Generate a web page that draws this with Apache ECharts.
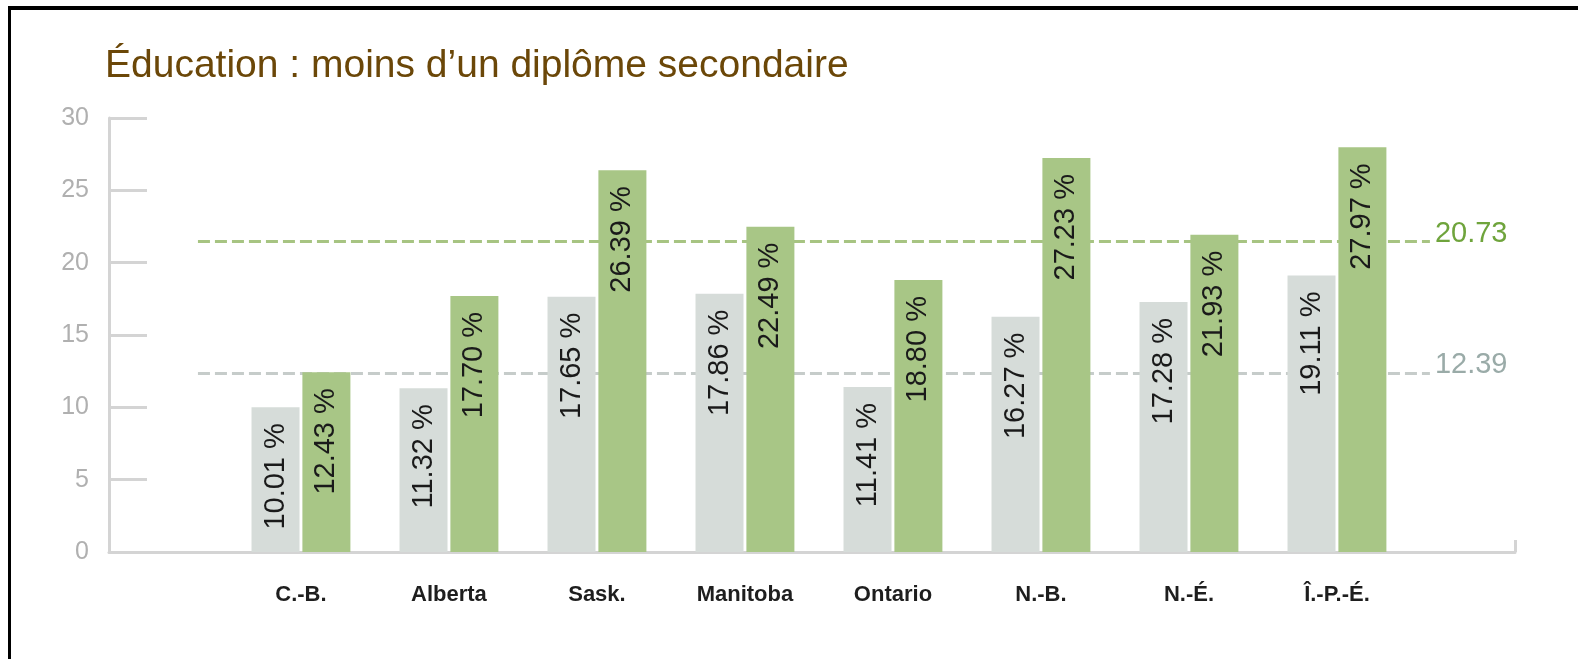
<!DOCTYPE html>
<html>
<head>
<meta charset="utf-8">
<script src="https://cdn.jsdelivr.net/npm/echarts@6/dist/echarts.min.js"></script>
<style>
html,body{margin:0;padding:0;background:#fff;}
#chart{position:absolute;left:0;top:0;width:1578px;height:659px;}
#frame{position:absolute;left:8px;top:6px;width:1580px;height:660px;border-top:4px solid #000;border-left:3px solid #000;pointer-events:none;}
</style>
</head>
<body>
<div id="chart"></div>
<div id="frame"></div>
<script>
const titleText = "Éducation : moins d’un diplôme secondaire";
const categories = ["C.-B.", "Alberta", "Sask.", "Manitoba", "Ontario", "N.-B.", "N.-É.", "Î.-P.-É."];
const grayValues = [10.01, 11.32, 17.65, 17.86, 11.41, 16.27, 17.28, 19.11];
const greenValues = [12.43, 17.70, 26.39, 22.49, 18.80, 27.23, 21.93, 27.97];
const yTicks = [0, 5, 10, 15, 20, 25, 30];
// reference lines: drawn position (as seen) and printed label
const greenRefLine = 21.45, greenRefLabel = "20.73";
const grayRefLine = 12.39, grayRefLabel = "12.39";

const font = "'Liberation Sans', Arial, sans-serif";
const xMin = -1.297, xMax = 8.203;
const lineStart = -0.696, lineEnd = 7.628;

const chart = echarts.init(document.getElementById('chart'));
const barLabel = {
  show: true, position: 'insideTop', rotate: 90, align: 'right', verticalAlign: 'middle',
  distance: 16, color: '#1a1a1a', fontFamily: font, fontSize: 29,
  formatter: p => p.value[1].toFixed(2) + ' %'
};
function refLine(v, label, lineColor, textColor) {
  return {
    silent: true, symbol: ['none', 'none'], z: 1,
    lineStyle: { type: [12, 5], width: 3, color: lineColor },
    label: { show: true, position: 'end', distance: 5, formatter: '{t|' + label + '}',
      rich: { t: { color: textColor, fontFamily: font, fontSize: 29, padding: [0, 0, 16, 0] } } },
    data: [[{ coord: [lineStart, v] }, { coord: [lineEnd, v] }]]
  };
}
chart.setOption({
  animation: false,
  title: {
    text: titleText, left: 100, top: 42,
    textStyle: { color: '#6b4708', fontFamily: font, fontSize: 39, fontWeight: 'normal' }
  },
  grid: { left: 109, right: 63, top: 118, bottom: 107 },
  xAxis: {
    type: 'value', min: xMin, max: xMax,
    splitLine: { show: false },
    axisLine: { show: true, lineStyle: { color: '#d4d4d4', width: 3 } },
    axisTick: { show: true, inside: true, length: 12, customValues: [xMax], lineStyle: { color: '#d4d4d4', width: 3 } },
    axisLabel: {
      customValues: categories.map((c, i) => i),
      formatter: v => categories[Math.round(v)] || '',
      margin: 32, color: '#1e1e1e', fontFamily: font, fontSize: 22, fontWeight: 'bold'
    }
  },
  yAxis: {
    type: 'value', min: yTicks[0], max: yTicks[yTicks.length - 1], interval: 5,
    splitLine: { show: false },
    axisLine: { show: true, onZero: false, lineStyle: { color: '#d4d4d4', width: 3 } },
    axisTick: { show: true, inside: true, length: 38, lineStyle: { color: '#d4d4d4', width: 3 } },
    axisLabel: { margin: 20, color: '#b0b0b0', fontFamily: font, fontSize: 25 }
  },
  series: [
    {
      type: 'line', data: [], silent: true, z: 1,
      markLine: refLine(grayRefLine, grayRefLabel, '#c6ccca', '#9aaba8')
    },
    {
      type: 'line', data: [], silent: true, z: 1,
      markLine: refLine(greenRefLine, greenRefLabel, '#a7c482', '#6fa43c')
    },
    {
      type: 'bar', barWidth: 48, barGap: '6%',
      itemStyle: { color: '#d6dcd9' },
      data: grayValues.map((v, i) => [i, v]),
      label: barLabel,
      z: 3
    },
    {
      type: 'bar', barWidth: 48, barGap: '6%',
      itemStyle: { color: '#a8c686' },
      data: greenValues.map((v, i) => [i, v]),
      label: barLabel,
      z: 3
    }
  ]
});
</script>
</body>
</html>
